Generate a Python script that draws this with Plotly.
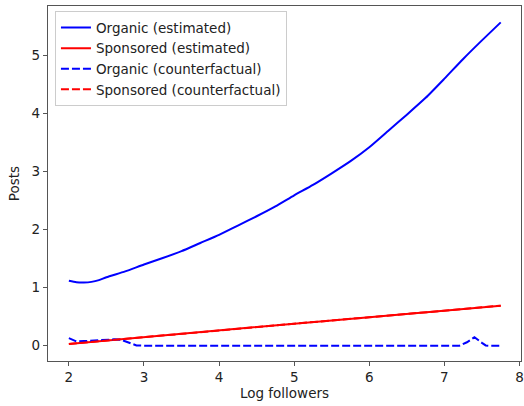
import plotly.graph_objects as go

# Organic posts (model estimate) against log followers
organic_x = [2.0, 2.1, 2.2, 2.3, 2.4, 2.5, 2.75, 3.0, 3.25, 3.5, 3.75, 4.0, 4.25,
             4.5, 4.75, 5.0, 5.25, 5.5, 5.75, 6.0, 6.25, 6.5, 6.75, 7.0, 7.25,
             7.5, 7.75]
organic_est = [1.12, 1.095, 1.09, 1.10, 1.13, 1.18, 1.28, 1.40, 1.51, 1.63, 1.77,
               1.91, 2.07, 2.23, 2.40, 2.59, 2.77, 2.97, 3.18, 3.42, 3.70, 3.98,
               4.27, 4.60, 4.94, 5.26, 5.57]

# Sponsored posts (model estimate)
sponsored_x = [2.0, 3.0, 4.0, 5.0, 6.0, 7.0, 7.75]
sponsored_est = [0.03, 0.15, 0.27, 0.38, 0.49, 0.60, 0.69]

# Counterfactual organic posts
cf_x = [2.0, 2.1, 2.2, 2.3, 2.4, 2.5, 2.6, 2.7, 2.8, 2.9, 3.0, 4.0, 5.0, 6.0,
        7.0, 7.2, 7.3, 7.4, 7.5, 7.55, 7.6, 7.75]
organic_cf = [0.13, 0.075, 0.08, 0.09, 0.095, 0.10, 0.11, 0.10, 0.05, 0.005, 0.0,
              0.0, 0.0, 0.0, 0.0, 0.0, 0.06, 0.145, 0.05, 0.005, 0.0, 0.0]

# Counterfactual sponsored posts coincide with the estimate
sponsored_cf = list(sponsored_est)

x_ticks = [2, 3, 4, 5, 6, 7, 8]
y_ticks = [0, 1, 2, 3, 4, 5]

BLUE = "#0000ff"
RED = "#ff0000"
DASH = "8px,3px"
TEXT = "#222222"
FS = 13.5

fig = go.Figure()
fig.add_trace(go.Scatter(x=organic_x, y=organic_est, mode="lines",
                         name="Organic (estimated)",
                         line=dict(color=BLUE, width=2, shape="spline", smoothing=0.6)))
fig.add_trace(go.Scatter(x=sponsored_x, y=sponsored_est, mode="lines",
                         name="Sponsored (estimated)",
                         line=dict(color=RED, width=2)))
fig.add_trace(go.Scatter(x=cf_x, y=organic_cf, mode="lines",
                         name="Organic (counterfactual)",
                         line=dict(color=BLUE, width=2, dash=DASH)))
fig.add_trace(go.Scatter(x=sponsored_x, y=sponsored_cf, mode="lines",
                         name="Sponsored (counterfactual)",
                         line=dict(color=RED, width=2, dash=DASH)))

axis_common = dict(
    showgrid=False, zeroline=False, showline=True, mirror=True,
    linecolor="#555555", linewidth=1.2,
    ticks="outside", ticklen=4, tickwidth=1, tickcolor="#555555",
    tickfont=dict(family="DejaVu Sans", size=FS, color=TEXT),
    ticklabeloverflow="allow",
)

fig.update_layout(
    width=524, height=406,
    margin=dict(l=48, r=0, t=6, b=45),
    paper_bgcolor="white", plot_bgcolor="white",
    font=dict(family="DejaVu Sans", size=FS, color=TEXT),
    xaxis=dict(range=[1.722, 8.02], tickvals=x_ticks,
               title=dict(text="Log followers", standoff=4,
                          font=dict(family="DejaVu Sans", size=FS, color=TEXT)),
               **axis_common),
    yaxis=dict(range=[-0.263, 5.852], tickvals=y_ticks,
               title=dict(text="Posts", standoff=8,
                          font=dict(family="DejaVu Sans", size=FS, color=TEXT)),
               **axis_common),
    legend=dict(x=0.0147, y=0.985, xanchor="left", yanchor="top",
                bgcolor="rgba(255,255,255,0.8)", bordercolor="#cccccc",
                borderwidth=1, font=dict(family="DejaVu Sans", size=FS, color=TEXT),
                tracegroupgap=0),
    showlegend=True,
)

fig.write_html("out.html")
